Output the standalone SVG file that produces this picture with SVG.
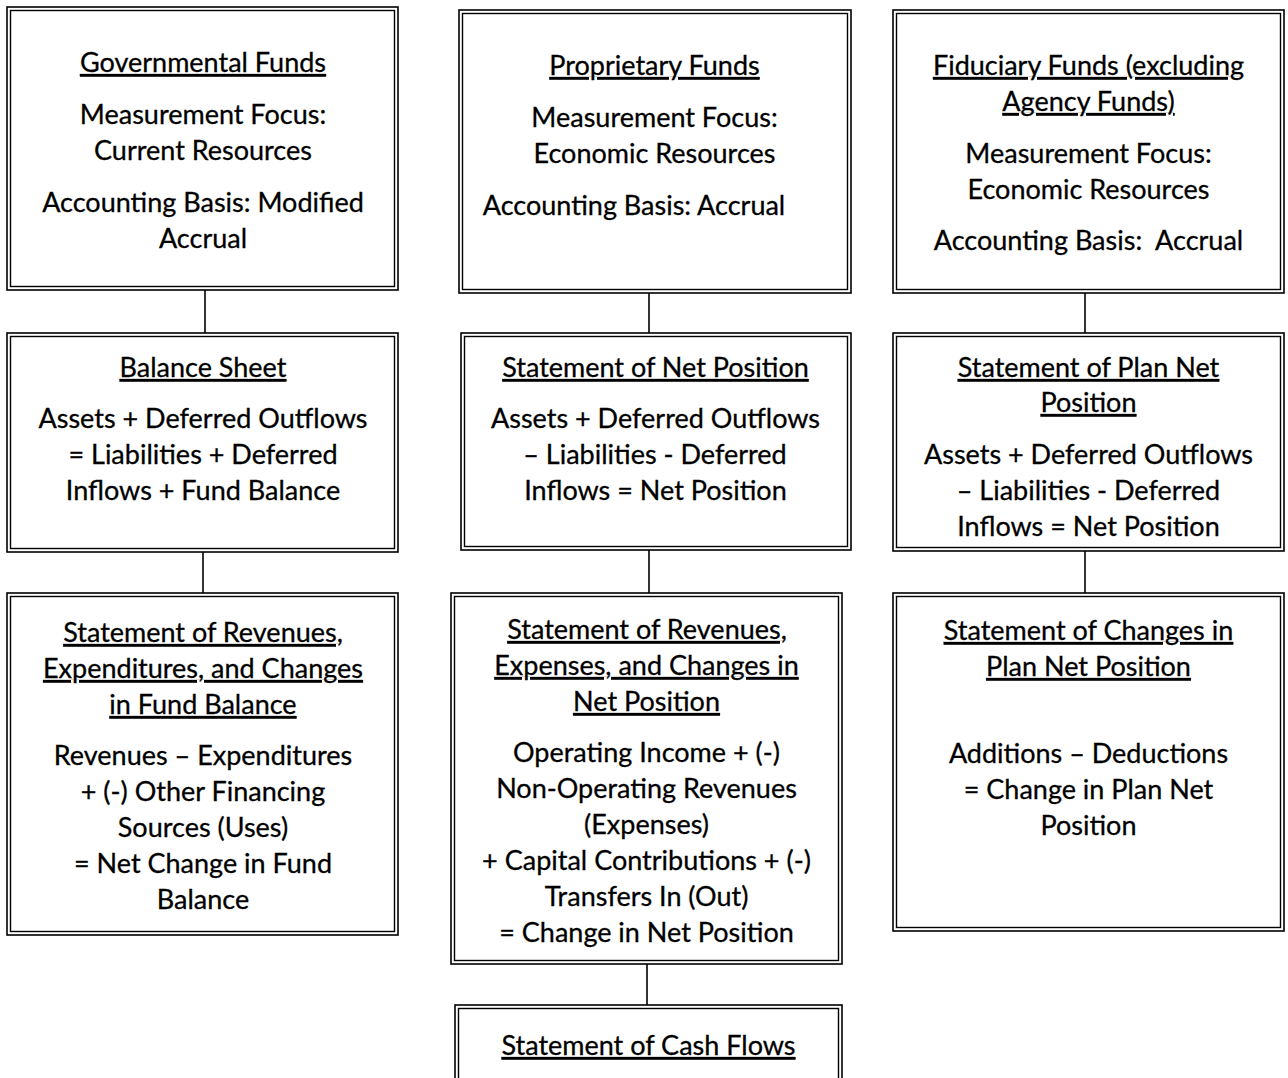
<svg xmlns="http://www.w3.org/2000/svg" width="1288" height="1078" viewBox="0 0 1288 1078">
<style>
  .bg { fill: #ffffff; }
  .outer { fill: #ffffff; stroke: #000000; stroke-width: 1.6; }
  .inner { fill: none; stroke: #000000; stroke-width: 1.4; }
  .conn { stroke: #000000; stroke-width: 1.6; fill: none; }
  text { font-family: Lato, "Liberation Sans", sans-serif; font-size: 27px; fill: #000000; stroke: #000000; stroke-width: 0.3; text-anchor: middle; }
  .u { text-decoration: underline; }
</style>
<rect class="bg" x="0" y="0" width="1288" height="1078"/>

<g id="connectors">
  <line class="conn" x1="205" y1="290" x2="205" y2="333"/>
  <line class="conn" x1="203" y1="552" x2="203" y2="593"/>
  <line class="conn" x1="649" y1="293" x2="649" y2="333"/>
  <line class="conn" x1="649" y1="550" x2="649" y2="593"/>
  <line class="conn" x1="647" y1="964" x2="647" y2="1005"/>
  <line class="conn" x1="1085" y1="293" x2="1085" y2="333"/>
  <line class="conn" x1="1085" y1="551" x2="1085" y2="593"/>
</g>

<g id="governmental-funds">
  <rect class="outer" x="7" y="7" width="391" height="283"/>
  <rect class="inner" x="10.5" y="10.5" width="384" height="276"/>
  <text x="203" y="72" class="u">Governmental Funds</text>
  <text x="203" y="124">Measurement Focus:</text>
  <text x="203" y="160">Current Resources</text>
  <text x="203" y="212">Accounting Basis: Modified</text>
  <text x="203" y="248">Accrual</text>
</g>

<g id="proprietary-funds">
  <rect class="outer" x="459" y="10" width="392" height="283"/>
  <rect class="inner" x="462.5" y="13.5" width="385" height="276"/>
  <text x="654.5" y="75" class="u">Proprietary Funds</text>
  <text x="654.5" y="127">Measurement Focus:</text>
  <text x="654.5" y="163">Economic Resources</text>
  <text x="634" y="215">Accounting Basis: Accrual</text>
</g>

<g id="fiduciary-funds">
  <rect class="outer" x="893" y="10" width="391" height="283"/>
  <rect class="inner" x="896.5" y="13.5" width="384" height="276"/>
  <text x="1088.5" y="75" class="u">Fiduciary Funds (excluding</text>
  <text x="1088.5" y="111" class="u">Agency Funds)</text>
  <text x="1088.5" y="163">Measurement Focus:</text>
  <text x="1088.5" y="199">Economic Resources</text>
  <text x="1088.5" y="250" xml:space="preserve">Accounting Basis:  Accrual</text>
</g>

<g id="balance-sheet">
  <rect class="outer" x="7" y="333" width="391" height="219"/>
  <rect class="inner" x="10.5" y="336.5" width="384" height="212"/>
  <text x="203" y="377" class="u">Balance Sheet</text>
  <text x="203" y="428">Assets + Deferred Outflows</text>
  <text x="203" y="464">= Liabilities + Deferred</text>
  <text x="203" y="500">Inflows + Fund Balance</text>
</g>

<g id="statement-of-net-position">
  <rect class="outer" x="461" y="333" width="390" height="217"/>
  <rect class="inner" x="464.5" y="336.5" width="383" height="210"/>
  <text x="655.5" y="377" class="u">Statement of Net Position</text>
  <text x="655.5" y="428">Assets + Deferred Outflows</text>
  <text x="655" y="464">– Liabilities - Deferred</text>
  <text x="655.5" y="500">Inflows = Net Position</text>
</g>

<g id="statement-of-plan-net-position">
  <rect class="outer" x="893" y="333" width="391" height="218"/>
  <rect class="inner" x="896.5" y="336.5" width="384" height="211"/>
  <text x="1088.5" y="377" class="u">Statement of Plan Net</text>
  <text x="1088.5" y="412" class="u">Position</text>
  <text x="1088.5" y="464">Assets + Deferred Outflows</text>
  <text x="1088.5" y="500">– Liabilities - Deferred</text>
  <text x="1088.5" y="536">Inflows = Net Position</text>
</g>

<g id="statement-of-revenues-expenditures">
  <rect class="outer" x="7" y="593" width="391" height="342"/>
  <rect class="inner" x="10.5" y="596.5" width="384" height="335"/>
  <text x="203" y="642" class="u">Statement of Revenues,</text>
  <text x="203" y="678" class="u">Expenditures, and Changes</text>
  <text x="203" y="714" class="u">in Fund Balance</text>
  <text x="203" y="765">Revenues – Expenditures</text>
  <text x="203" y="801">+ (-) Other Financing</text>
  <text x="203" y="837">Sources (Uses)</text>
  <text x="203" y="873">= Net Change in Fund</text>
  <text x="203" y="909">Balance</text>
</g>

<g id="statement-of-revenues-expenses">
  <rect class="outer" x="451" y="593" width="391" height="371"/>
  <rect class="inner" x="454.5" y="596.5" width="384" height="364"/>
  <text x="647" y="639" class="u">Statement of Revenues,</text>
  <text x="646.5" y="675" class="u">Expenses, and Changes in</text>
  <text x="646.5" y="711" class="u">Net Position</text>
  <text x="646.5" y="762">Operating Income + (-)</text>
  <text x="646.5" y="798">Non-Operating Revenues</text>
  <text x="646.5" y="834">(Expenses)</text>
  <text x="646.5" y="870">+ Capital Contributions + (-)</text>
  <text x="646.5" y="906">Transfers In (Out)</text>
  <text x="646.5" y="942">= Change in Net Position</text>
</g>

<g id="statement-of-changes-in-plan-net-position">
  <rect class="outer" x="893" y="593" width="391" height="338"/>
  <rect class="inner" x="896.5" y="596.5" width="384" height="331"/>
  <text x="1088.5" y="640" class="u">Statement of Changes in</text>
  <text x="1088.5" y="676" class="u">Plan Net Position</text>
  <text x="1088.5" y="763">Additions – Deductions</text>
  <text x="1088.5" y="799">= Change in Plan Net</text>
  <text x="1088.5" y="835">Position</text>
</g>

<g id="statement-of-cash-flows">
  <rect class="outer" x="455" y="1005" width="387" height="100"/>
  <rect class="inner" x="458.5" y="1008.5" width="380" height="100"/>
  <text x="648.5" y="1055" class="u">Statement of Cash Flows</text>
</g>
</svg>
